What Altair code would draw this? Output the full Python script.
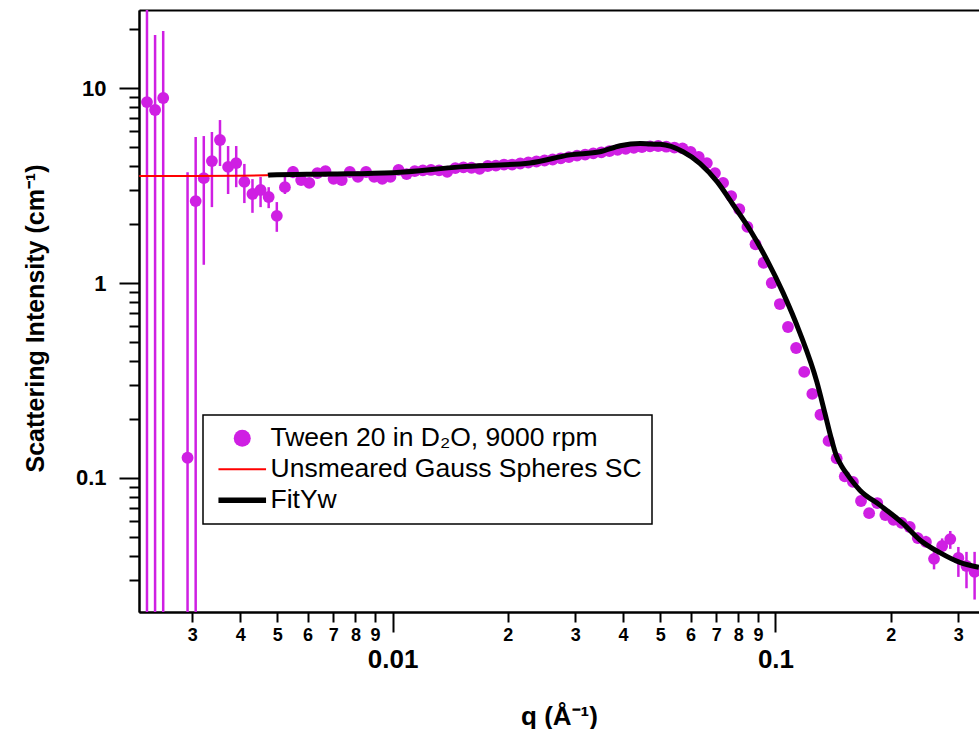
import altair as alt
import pandas as pd

# ---------------- data ----------------
series_names = ["Tween 20 in D₂O, 9000 rpm", "Unsmeared Gauss Spheres SC", "FitYw"]
series_colors = ["#CF1FE3", "#FF0000", "#000000"]

q_data = [0.002284, 0.002398, 0.002518, 0.002915, 0.003061, 0.003214, 0.003375,
          0.003543, 0.003720, 0.003906, 0.004102, 0.004307, 0.004522, 0.004748,
          0.004986, 0.005235, 0.005497, 0.005772, 0.006060, 0.006363, 0.006681,
          0.007015, 0.007366, 0.007734, 0.008121, 0.008527, 0.008954, 0.009401,
          0.009871, 0.010365, 0.010883, 0.011427, 0.011999, 0.012599, 0.013229,
          0.013890, 0.014584, 0.015314, 0.016079, 0.016883, 0.017728, 0.018614,
          0.019545, 0.020522, 0.021548, 0.022625, 0.023757, 0.024944, 0.026192,
          0.027501, 0.028876, 0.030320, 0.031836, 0.033428, 0.035099, 0.036854,
          0.038697, 0.040632, 0.042664, 0.044797, 0.047036, 0.049388, 0.051858,
          0.054451, 0.057173, 0.060032, 0.063033, 0.066185, 0.069494, 0.072969,
          0.076617, 0.080448, 0.084470, 0.088694, 0.093128, 0.097785, 0.102674,
          0.107808, 0.113198, 0.118858, 0.124801, 0.131041, 0.137593, 0.144473,
          0.151697, 0.159281, 0.167245, 0.175608, 0.184388, 0.193608, 0.203288,
          0.213452, 0.224125, 0.235331, 0.247098, 0.259453, 0.272425, 0.286047,
          0.300349, 0.315366, 0.331135]

I_data = [8.47, 7.71, 8.89, 0.127, 2.63, 3.45, 4.22,
          5.41, 3.94, 4.12, 3.30, 2.86, 3.00, 2.76,
          2.21, 3.10, 3.71, 3.37, 3.26, 3.66, 3.75,
          3.42, 3.37, 3.71, 3.50, 3.71, 3.50, 3.42,
          3.50, 3.80, 3.62, 3.75, 3.78, 3.80, 3.78,
          3.72, 3.88, 3.92, 3.90, 3.85, 3.98, 4.00,
          4.05, 4.05, 4.10, 4.15, 4.20, 4.25, 4.30,
          4.36, 4.42, 4.50, 4.55, 4.62, 4.68, 4.75,
          4.82, 4.88, 4.93, 4.98, 5.02, 5.04, 5.00,
          4.95, 4.90, 4.70, 4.43, 4.12, 3.66, 3.26,
          2.79, 2.39, 1.94, 1.58, 1.27, 1.00, 0.78,
          0.595, 0.464, 0.35, 0.27, 0.211, 0.155, 0.126,
          0.102, 0.0955, 0.0762, 0.066, 0.0744, 0.0646, 0.061,
          0.0589, 0.0561, 0.0492, 0.047, 0.0385, 0.0448, 0.0486,
          0.0389, 0.0354, 0.033]

# error bars (only those visible outside the markers)
err_q = [0.002284, 0.002398, 0.002518, 0.002915, 0.003061, 0.003214, 0.003375,
         0.003543, 0.003720, 0.003906, 0.004102, 0.004307, 0.004522, 0.004748,
         0.004986, 0.005235, 0.005497,
         0.235331, 0.247098, 0.259453, 0.272425, 0.286047, 0.300349, 0.315366, 0.331135]
err_lo = [0.001, 0.001, 0.001, 0.001, 0.001, 1.24, 2.45,
          3.98, 2.86, 3.10, 2.57, 2.29, 2.45, 2.42,
          1.83, 2.86, 3.45,
          0.0462, 0.0443, 0.034, 0.041, 0.0433, 0.0311, 0.0272, 0.0238]
err_hi = [100.0, 18.7, 19.6, 3.7, 5.61, 5.67, 5.95,
          6.85, 5.04, 5.04, 4.08, 3.41, 3.5, 3.10,
          2.60, 3.5, 3.98,
          0.0525, 0.0505, 0.0423, 0.049, 0.0535, 0.0443, 0.0418, 0.0418]

red_q = [0.00218, 0.0030, 0.0040, 0.0050]
red_I = [3.54, 3.54, 3.55, 3.58]

fit_q = [0.004729, 0.004785, 0.006865, 0.01002, 0.01500, 0.02285, 0.02906, 0.03484,
         0.03929, 0.04432, 0.04706, 0.04996, 0.05738, 0.06356, 0.07039, 0.07751,
         0.08584, 0.09507, 0.1047, 0.1158, 0.1283, 0.1346, 0.1398, 0.1440, 0.1489,
         0.1536, 0.1661, 0.1874, 0.2151, 0.2383, 0.2687, 0.3030, 0.3397]
fit_I = [3.57, 3.58, 3.62, 3.68, 3.94, 4.13, 4.54, 4.71,
         5.06, 5.20, 5.16, 5.14, 4.71, 4.10, 3.31, 2.52,
         1.87, 1.31, 0.89, 0.555, 0.31, 0.215, 0.160, 0.131, 0.115,
         0.105, 0.0866, 0.0726, 0.0585, 0.0481, 0.0414, 0.0369, 0.0348]

x_major = [0.01, 0.1]
x_minor = [0.003, 0.004, 0.005, 0.006, 0.007, 0.008, 0.009,
           0.02, 0.03, 0.04, 0.05, 0.06, 0.07, 0.08, 0.09, 0.2, 0.3]
y_major = [0.1, 1, 10]
y_minor = [0.03, 0.04, 0.05, 0.06, 0.07, 0.08, 0.09,
           0.2, 0.3, 0.4, 0.5, 0.6, 0.7, 0.8, 0.9,
           2, 3, 4, 5, 6, 7, 8, 9, 20]

# ---------------- chart ----------------
pts = pd.DataFrame({"q": q_data, "I": I_data, "series": series_names[0]})
bars = pd.DataFrame({"q": err_q, "lo": err_lo, "hi": err_hi})
red = pd.DataFrame({"q": red_q, "I": red_I})
fit = pd.DataFrame({"q": fit_q, "I": fit_I})

FONT = "Liberation Sans"
xs = alt.Scale(type="log", domain=[0.002177, 0.3400], nice=False)
ys = alt.Scale(type="log", domain=[0.02055, 25.12], nice=False)

x_major_axis = alt.Axis(values=x_major, format="~g", tickSize=20, labelFontSize=26,
                        labelPadding=14, labelOverlap=False, labelFlush=False,
                        title="q (Å⁻¹)", titleFontSize=26, titleX=420, titleY=104,
                        titleBaseline="middle", orient="bottom")
x_minor_axis = alt.Axis(values=x_minor, tickSize=10, labelFontSize=18, labelPadding=4,
                        labelOverlap=False, labelFlush=False,
                        labelExpr="'' + round(datum.value / pow(10, floor(log(datum.value) / LN10 + 1e-6)))",
                        title=None, orient="bottom")
x_top_axis = alt.Axis(orient="top", ticks=False, labels=False, title=None, domain=True)
y_major_axis = alt.Axis(values=y_major, format="~g", tickSize=20, labelFontSize=22,
                        labelPadding=13, labelOverlap=False, labelFlush=False,
                        title="Scattering Intensity (cm⁻¹)", titleFontSize=25,
                        titleX=-104, titleY=308, titleAngle=-90, titleBaseline="middle",
                        orient="left")
y_minor_axis = alt.Axis(values=y_minor, tickSize=10, labels=False, title=None, orient="left")

leg = alt.Legend(title=None, orient="none", legendX=64, legendY=405, padding=10,
                 labelFontSize=26.5, labelFont=FONT, labelFontWeight="normal", labelLimit=700,
                 symbolSize=289, symbolOffset=16, labelOffset=15, rowPadding=4,
                 strokeColor="black", fillColor="white", symbolStrokeWidth=0,
                 symbolOpacity=1)

red_path = "M-2.8,-0.12L2.8,-0.12L2.8,0.12L-2.8,0.12Z"
black_path = "M-2.8,-0.33L2.8,-0.33L2.8,0.33L-2.8,0.33Z"

bar_layer = alt.Chart(bars).mark_rule(color=series_colors[0], strokeWidth=2.5, clip=True).encode(
    x=alt.X("q:Q", scale=xs, axis=x_minor_axis),
    y=alt.Y("lo:Q", scale=ys, axis=y_minor_axis),
    y2="hi:Q",
)

pt_layer = alt.Chart(pts).mark_point(filled=True, size=140, opacity=1, clip=True).encode(
    x=alt.X("q:Q", scale=xs, axis=x_major_axis),
    y=alt.Y("I:Q", scale=ys, axis=y_major_axis),
    color=alt.Color("series:N", scale=alt.Scale(domain=series_names, range=series_colors), legend=leg),
    shape=alt.Shape("series:N", scale=alt.Scale(domain=series_names,
                                                range=["circle", red_path, black_path]), legend=leg),
)

red_layer = alt.Chart(red).mark_line(color="#FF0000", strokeWidth=2, clip=True).encode(
    x=alt.X("q:Q", scale=xs, axis=x_top_axis),
    y=alt.Y("I:Q", scale=ys, axis=None),
)

fit_layer = alt.Chart(fit).mark_line(color="#000000", strokeWidth=5, interpolate="monotone",
                                     clip=True).encode(
    x=alt.X("q:Q", scale=xs, axis=None),
    y=alt.Y("I:Q", scale=ys, axis=None),
)

chart = alt.layer(bar_layer, pt_layer, red_layer, fit_layer).resolve_axis(
    x="independent", y="independent"
).properties(
    width=840, height=602,
    padding={"left": 139, "top": 10, "right": 0, "bottom": 117},
    autosize=alt.AutoSizeParams(type="none"),
    background="white",
).configure_view(stroke=None).configure_axis(
    grid=False, domainColor="black", domainWidth=2, tickColor="black", tickWidth=2,
    labelColor="black", labelFont=FONT, labelFontWeight="bold",
    titleColor="black", titleFont=FONT, titleFontWeight="bold",
).configure_legend(strokeWidth=1.5)

chart.save("out.html", embed_options={"renderer": "svg", "actions": False})
